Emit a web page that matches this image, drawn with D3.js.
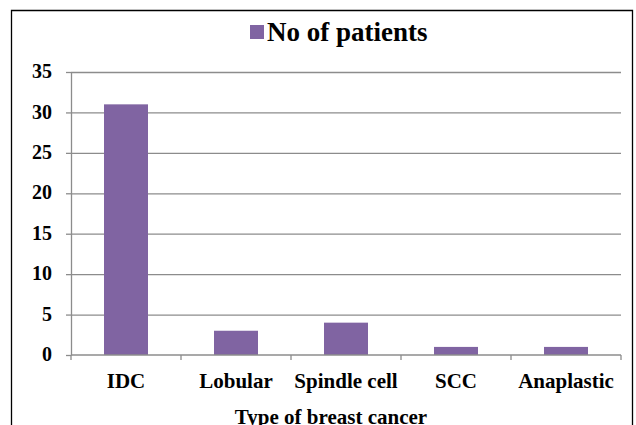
<!DOCTYPE html>
<html lang="en">
<head>
  <meta charset="utf-8">
  <title>Type of breast cancer</title>
  <script src="https://d3js.org/d3.v7.min.js"></script>
  <style>
    body { margin: 0; background: #fff; }
    text { font-family: "Liberation Serif", "Times New Roman", serif; font-weight: bold; fill: #000; }
    .grid line { stroke: #8c8c8c; stroke-width: 1.3; }
    .grid path { display: none; }
    .axis path, .axis line { stroke: #8c8c8c; stroke-width: 1.3; }
    .axis text { font-family: "Liberation Serif", "Times New Roman", serif; fill: #000; }
    rect.bar { fill: #8064a2; }
  </style>
</head>
<body>
  <div id="container"></div>
  <script>
    var categories = ["IDC", "Lobular", "Spindle cell", "SCC", "Anaplastic"];
    var patients = [31, 3, 4, 1, 1];
    var yTicks = [0, 5, 10, 15, 20, 25, 30, 35];
    var seriesName = "No of patients";
    var xTitle = "Type of breast cancer";

    var W = 636, H = 425;
    var plotLeft = 71, plotRight = 621, plotTop = 72, plotBottom = 355;

    var svg = d3.select("#container").append("svg")
      .attr("width", W)
      .attr("height", H);

    // outer frame (bottom edge runs off the page)
    svg.append("path")
      .attr("d", "M11.5," + (H + 5) + "V10.5H632.5V" + (H + 5))
      .attr("fill", "none")
      .attr("stroke", "#000")
      .attr("stroke-width", 1.3);

    var x = d3.scaleBand().domain(categories).range([plotLeft, plotRight]).paddingInner(0.6).paddingOuter(0.3);
    var band = d3.scaleBand().domain(categories).range([plotLeft, plotRight]);
    var y = d3.scaleLinear().domain([0, 35]).range([plotBottom, plotTop]);

    // gridlines
    svg.append("g")
      .attr("class", "grid")
      .attr("transform", "translate(" + plotLeft + ",0)")
      .call(d3.axisLeft(y).tickValues(yTicks.slice(1)).tickSize(-(plotRight - plotLeft)).tickFormat(""));

    // y axis
    var yAxis = svg.append("g")
      .attr("class", "axis")
      .attr("transform", "translate(" + plotLeft + ",0)")
      .call(d3.axisLeft(y).tickValues(yTicks).tickSize(5).tickSizeOuter(0).tickPadding(14));
    yAxis.selectAll("text").style("font-size", "20px").attr("dy", "0.28em");

    // bars
    svg.selectAll("rect.bar")
      .data(patients)
      .enter().append("rect")
      .attr("class", "bar")
      .attr("x", function (d, i) { return x(categories[i]); })
      .attr("width", x.bandwidth())
      .attr("y", function (d) { return y(d); })
      .attr("height", function (d) { return y(0) - y(d); });

    // x axis, ticks on band boundaries
    var xAxis = svg.append("g")
      .attr("class", "axis")
      .attr("transform", "translate(0," + plotBottom + ")");
    xAxis.append("line")
      .attr("x1", plotLeft).attr("x2", plotRight)
      .attr("y1", 0).attr("y2", 0);
    var bounds = categories.map(function (c) { return band(c); }).concat([plotRight]);
    xAxis.selectAll("line.tick")
      .data(bounds)
      .enter().append("line")
      .attr("class", "tick")
      .attr("x1", function (d) { return d; }).attr("x2", function (d) { return d; })
      .attr("y1", 0).attr("y2", 5);
    xAxis.selectAll("text.lab")
      .data(categories)
      .enter().append("text")
      .attr("class", "lab")
      .attr("x", function (d) { return band(d) + band.bandwidth() / 2; })
      .attr("y", 33)
      .attr("text-anchor", "middle")
      .style("font-size", "21px")
      .text(function (d) { return d; });

    // x axis title
    svg.append("text")
      .attr("x", 331)
      .attr("y", 424)
      .attr("text-anchor", "middle")
      .style("font-size", "21px")
      .text(xTitle);

    // legend
    var lg = svg.append("g").attr("transform", "translate(250,25)");
    lg.append("rect")
      .attr("class", "bar")
      .attr("x", 0).attr("y", 0)
      .attr("width", 14).attr("height", 14);
    lg.append("text")
      .attr("x", 17)
      .attr("y", 16)
      .style("font-size", "27px")
      .text(seriesName);
  </script>
</body>
</html>
